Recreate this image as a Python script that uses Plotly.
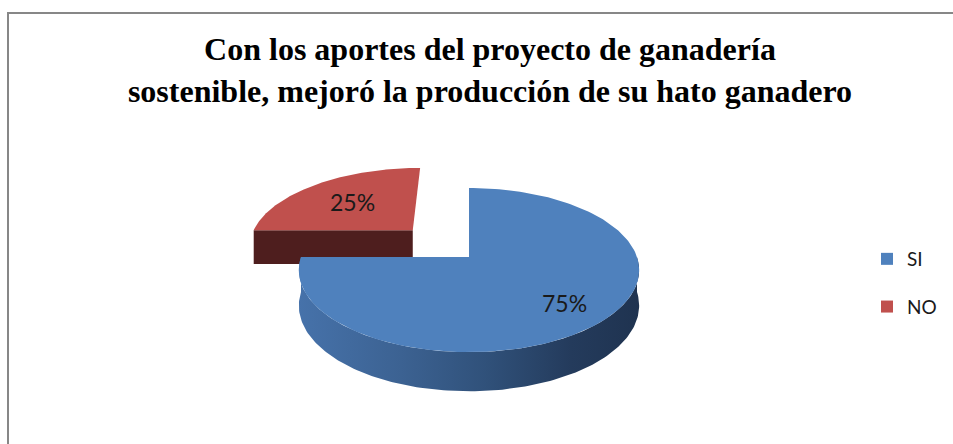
import numpy as np
import plotly.graph_objects as go

# ---------------- data ----------------
categories = ["SI", "NO"]
values = [75, 25]
title_lines = ["Con los aportes del proyecto de ganadería",
               "sostenible, mejoró la producción de su hato ganadero"]

# ---------------- style ----------------
top_colors = ["#4F81BD", "#C0504D"]
cut_colors = ["#2C4A70", "#4E1E1E"]
side_scales = [
    [[0, "#4672AA"], [0.3, "#3C6292"], [0.55, "#30517A"], [0.8, "#243B5C"], [1, "#1F3350"]],
    [[0, "#8C3A38"], [1, "#5A2422"]],
]
pulls = [0.0, 0.5]

W, H = 953, 444
CX, CY = 469, 257          # projected pie centre (px)
A0, B0 = 168, 80           # horizontal / vertical radius (px)
P = 0.159                  # perspective strength
T, K = 35, 0.65            # thickness (px) and its perspective exponent


def proj(u, v, z):
    w = 1 + P * v
    x = CX + A0 * u / w
    y = CY - B0 * v / w + T * z / (w ** K)
    return x, y


total = float(sum(values))
fig = go.Figure()

slices = []
start = 0.0
for i, val in enumerate(values):
    sweep = 360.0 * val / total
    a0, a1 = start, start + sweep
    mid = np.radians((a0 + a1) / 2)
    ou, ov = pulls[i] * np.sin(mid), pulls[i] * np.cos(mid)
    slices.append((i, a0, a1, ou, ov))
    start = a1

# draw back (pulled, rear) slices first
order = sorted(slices, key=lambda s: -s[4])
for (i, a0, a1, ou, ov) in order:
    th = np.radians(np.linspace(a0, a1, 160))
    # radial cut faces that face the viewer
    for ang in (a0, a1):
        r = np.radians(ang)
        eu, ev = np.sin(r), np.cos(r)
        sign = -1 if ang == a0 else 1
        nu, nv = sign * np.cos(r), -sign * np.sin(r)
        if nv < -1e-6:
            pts = [proj(ou, ov, 0), proj(ou + eu, ov + ev, 0),
                   proj(ou + eu, ov + ev, 1), proj(ou, ov, 1)]
            xs = [p[0] for p in pts] + [pts[0][0]]
            ys = [p[1] for p in pts] + [pts[0][1]]
            fig.add_trace(go.Scatter(x=xs, y=ys, fill="toself", mode="lines",
                                     line=dict(width=0), fillcolor=cut_colors[i],
                                     showlegend=False, hoverinfo="skip"))
    # outer side (front half only)
    lo, hi = max(a0, 90.0), min(a1, 270.0)
    if hi > lo:
        ts = np.radians(np.linspace(lo, hi, 160))
        tu, tv = ou + np.sin(ts), ov + np.cos(ts)
        x_top, y_top = proj(tu, tv, 0)
        x_bot, y_bot = proj(tu, tv, 1)
        xs = np.concatenate([x_top, x_bot[::-1], x_top[:1]])
        ys = np.concatenate([y_top, y_bot[::-1], y_top[:1]])
        fig.add_trace(go.Scatter(x=xs, y=ys, fill="toself", mode="lines",
                                 line=dict(width=0),
                                 fillgradient=dict(type="horizontal",
                                                   colorscale=side_scales[i]),
                                 showlegend=False, hoverinfo="skip"))
    # top face
    tu, tv = ou + np.sin(th), ov + np.cos(th)
    x_arc, y_arc = proj(tu, tv, 0)
    cx0, cy0 = proj(ou, ov, 0)
    xs = np.concatenate([[cx0], x_arc, [cx0]])
    ys = np.concatenate([[cy0], y_arc, [cy0]])
    fig.add_trace(go.Scatter(x=xs, y=ys, fill="toself", mode="lines",
                             line=dict(width=0), fillcolor=top_colors[i],
                             showlegend=False, hoverinfo="skip"))

# percentage labels
label_r = [0.74, 0.6]
for (i, a0, a1, ou, ov) in slices:
    mid = np.radians((a0 + a1) / 2)
    lx, ly = proj(ou + label_r[i] * np.sin(mid), ov + label_r[i] * np.cos(mid), 0)
    fig.add_annotation(x=lx, y=ly, xref="x", yref="y",
                       text=f"{round(100 * values[i] / total)}%", showarrow=False,
                       font=dict(family="Lato", size=23, color="#1A1A1A"))

# legend entries
for i, c in enumerate(categories):
    fig.add_trace(go.Scatter(x=[None], y=[None], mode="markers", name=c,
                             legendgroup=c,
                             marker=dict(symbol="square", size=12, color=top_colors[i])))

fig.update_layout(
    width=W, height=H,
    margin=dict(l=0, r=0, t=0, b=0),
    paper_bgcolor="white", plot_bgcolor="white",
    xaxis=dict(range=[0, W], visible=False, fixedrange=True),
    yaxis=dict(range=[H, 0], visible=False, fixedrange=True),
    title=dict(text="<b>" + "<br>".join(title_lines) + "</b>",
               x=490 / W, xanchor="center", y=1 - 60 / H, yanchor="top",
               font=dict(family="Liberation Serif", size=32, color="black")),
    legend=dict(x=867 / W, xanchor="left", y=1 - 240 / H, yanchor="top",
                font=dict(family="Lato", size=19, color="#1A1A1A"),
                itemwidth=30, tracegroupgap=20, bgcolor="rgba(0,0,0,0)"),
    showlegend=True,
)
fig.add_shape(type="rect", xref="paper", yref="paper",
              x0=8 / W, x1=1.05, y0=-0.1, y1=1 - 13 / H,
              line=dict(color="#878787", width=2), fillcolor="rgba(0,0,0,0)")

fig.write_html("out.html", config={"displayModeBar": False},
               post_script="document.body.style.margin='0';document.body.style.overflow='hidden';")
